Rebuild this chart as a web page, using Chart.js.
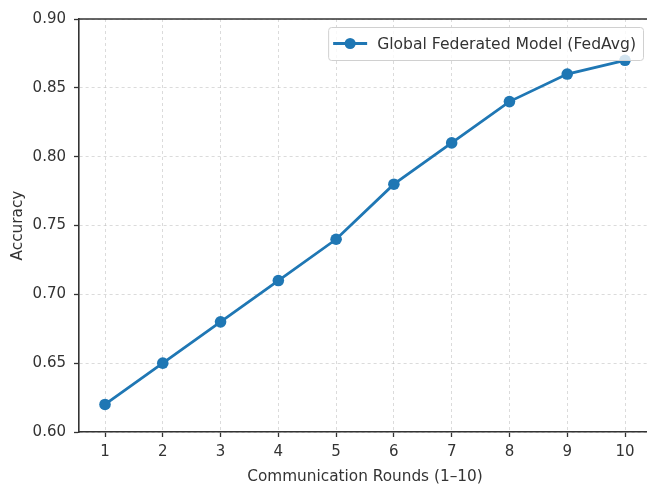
<!DOCTYPE html>
<html><head><meta charset="utf-8">
<style>html,body{margin:0;padding:0;background:#fff;overflow:hidden;width:647px;height:488px}#wrap{width:651px;height:488px}canvas{display:block}</style>
<script src="https://cdn.jsdelivr.net/npm/chart.js@4/dist/chart.umd.min.js"></script>
</head><body>
<div id="wrap"><canvas id="c" width="651" height="488" style="width:651px;height:488px"></canvas></div>
<script>
const rounds = [1,2,3,4,5,6,7,8,9,10];
const accuracy = [0.62,0.65,0.68,0.71,0.74,0.78,0.81,0.84,0.86,0.87];
const yTickValues = [0.60,0.65,0.70,0.75,0.80,0.85,0.90];
const seriesLabel = 'Global Federated Model (FedAvg)';
const xTitle = 'Communication Rounds (1–10)';
const yTitle = 'Accuracy';

const BLUE = '#1f77b4';
const TEXT = '#333333';
const FONT = "'DejaVu Sans', sans-serif";

const framePlugin = {
  id: 'frame',
  afterDraw(chart) {
    const {ctx, chartArea: a} = chart;
    ctx.save();
    ctx.strokeStyle = '#333';
    ctx.lineWidth = 1.6;
    ctx.beginPath();
    ctx.moveTo(a.left - 0.8, a.top);
    ctx.lineTo(a.right, a.top);
    ctx.stroke();
    // legend
    ctx.font = '15.6px ' + FONT;
    const tw = ctx.measureText(seriesLabel).width;
    const right = 643, top = a.top + 8, h = 33;
    const w = tw + 56;
    const left = right - w;
    ctx.fillStyle = 'rgba(255,255,255,0.8)';
    ctx.strokeStyle = '#d0d0d0';
    ctx.lineWidth = 1;
    ctx.beginPath();
    ctx.roundRect(left + 0.5, top + 0.5, w, h, 3);
    ctx.fill();
    ctx.stroke();
    const cy = top + h / 2;
    ctx.strokeStyle = BLUE;
    ctx.lineWidth = 2.8;
    ctx.beginPath();
    ctx.moveTo(left + 5, cy);
    ctx.lineTo(left + 39, cy);
    ctx.stroke();
    ctx.fillStyle = BLUE;
    ctx.beginPath();
    ctx.arc(left + 22, cy, 5.5, 0, Math.PI * 2);
    ctx.fill();
    ctx.fillStyle = TEXT;
    ctx.textBaseline = 'middle';
    ctx.fillText(seriesLabel, left + 49, cy + 1);
    ctx.restore();
  }
};

new Chart(document.getElementById('c'), {
  type: 'line',
  data: {
    datasets: [{
      label: seriesLabel,
      data: rounds.map((r, i) => ({x: r, y: accuracy[i]})),
      borderColor: BLUE,
      backgroundColor: BLUE,
      borderWidth: 2.8,
      pointRadius: 5.8,
      pointHoverRadius: 5.8,
      pointBorderWidth: 0,
      pointBackgroundColor: BLUE,
      tension: 0,
      clip: false
    }]
  },
  options: {
    responsive: false,
    animation: false,
    devicePixelRatio: 1,
    events: [],
    layout: {autoPadding: false, padding: {top: 19, left: 0, right: 0, bottom: 0}},
    plugins: {legend: {display: false}, tooltip: {enabled: false}},
    scales: {
      x: {
        type: 'linear',
        min: 0.55, max: 10.45,
        afterBuildTicks: s => { s.ticks = rounds.map(v => ({value: v})); },
        afterFit: s => { s.height = 56; s.paddingLeft = 0; s.paddingRight = 0; },
        ticks: {color: TEXT, font: {family: FONT, size: 15}, padding: 6, maxRotation: 0, autoSkip: false, callback: v => String(v)},
        grid: {color: 'rgba(190,190,190,0.55)', lineWidth: 1, tickLength: 5, tickColor: '#333', tickWidth: 1.3},
        border: {display: true, color: '#333', width: 1.6, dash: [3, 3]},
        title: {display: true, text: xTitle, color: TEXT, font: {family: FONT, size: 15.3}, padding: {top: 0, bottom: 2}}
      },
      y: {
        type: 'linear',
        min: 0.6, max: 0.9,
        afterBuildTicks: s => { s.ticks = yTickValues.map(v => ({value: v})); },
        afterFit: s => { s.width = 79; s.paddingTop = 0; s.paddingBottom = 0; },
        ticks: {color: TEXT, font: {family: FONT, size: 15}, padding: 8, callback: v => Number(v).toFixed(2)},
        grid: {color: 'rgba(190,190,190,0.55)', lineWidth: 1, tickLength: 5, tickColor: '#333', tickWidth: 1.3},
        border: {display: true, color: '#333', width: 1.6, dash: [3, 3]},
        title: {display: true, text: yTitle, color: TEXT, font: {family: FONT, size: 15.3}, padding: {top: 9, bottom: 0}}
      }
    }
  },
  plugins: [framePlugin]
});
</script>
</body></html>
